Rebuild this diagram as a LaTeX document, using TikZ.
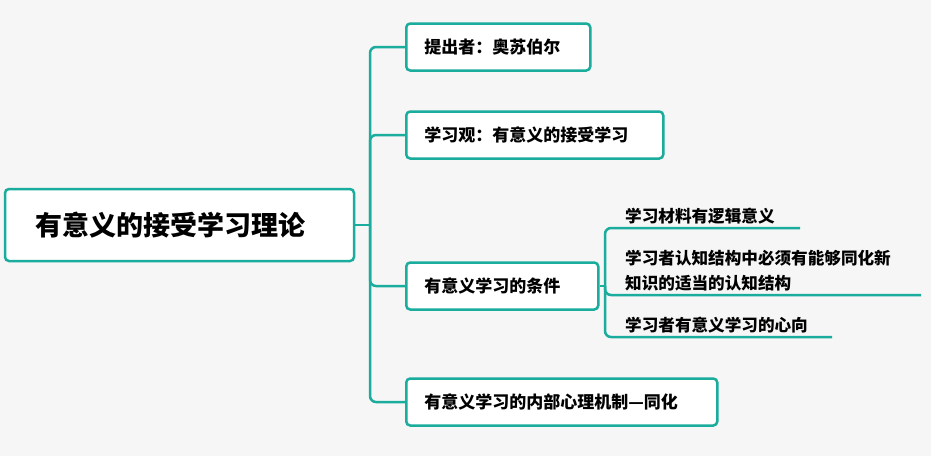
\documentclass[tikz,border=0pt]{standalone}
\usepackage{fontspec}
\setmainfont{Noto Sans CJK SC}
\usetikzlibrary{positioning}
\definecolor{teal1}{HTML}{1AAC9C}
\definecolor{bg}{HTML}{F6F6F6}

\begin{document}
\begin{tikzpicture}[x=1pt,y=-1pt,
rootnode/.style={rounded corners=4pt, draw=teal1, fill=white, line width=2.5pt, minimum width=349pt, minimum height=72pt, text width=319pt, align=left, font=\fontsize{27}{30}\selectfont\bfseries},
boxnode/.style={rounded corners=4pt, draw=teal1, fill=white, line width=2.5pt, minimum height=47pt, anchor=west, inner xsep=0pt, align=left, font=\fontsize{17}{20}\selectfont\bfseries},
leafnode/.style={anchor=south west, inner xsep=0pt, inner ysep=4pt, align=left, font=\fontsize{16.6}{25}\selectfont\bfseries},
link/.style={draw=teal1, line width=2.5pt, rounded corners=6pt},
]
\fill[bg] (0,0) rectangle (931,456);
\useasboundingbox (0,0) rectangle (931,456);

%Nodes
\node[rootnode] (root) at (179.5,225) {\hspace*{15pt}有意义的接受学习理论};
\node[boxnode, minimum width=184pt, text width=164pt] (author) at (405,47) {\hspace*{8pt}提出者：奥苏伯尔};
\node[boxnode, minimum width=257pt, text width=237pt] (view) at (405,135) {\hspace*{8pt}学习观：有意义的接受学习};
\node[boxnode, minimum width=192pt, text width=172pt] (cond) at (405,286) {\hspace*{8pt}有意义学习的条件};
\node[boxnode, minimum width=311pt, text width=291pt] (mech) at (405,402) {\hspace*{8pt}有意义学习的内部心理机制—同化};

\coordinate (trunk) at (370,225);
\coordinate (fork) at (605,286);
\node[leafnode] (leafa) at (625,228) {学习材料有逻辑意义};
\node[leafnode] (leafb) at (625,295) {学习者认知结构中必须有能够同化新\\知识的适当的认知结构};
\node[leafnode] (leafc) at (625,337) {学习者有意义学习的心向};

%Lines
\draw[link] (root.east) -- (trunk);
\draw[link] (trunk) |- (author.west);
\draw[link] (trunk) |- (view.west);
\draw[link] (trunk) |- (cond.west);
\draw[link] (trunk) |- (mech.west);
\draw[link] (cond.east) -- (fork);
\draw[link] (fork) |- (leafa.south west) -- (800,228);
\draw[link] (fork) -- (605,295) -- (921,295);
\draw[link] (fork) |- (leafc.south west) -- (832,337);
\end{tikzpicture}
\end{document}
